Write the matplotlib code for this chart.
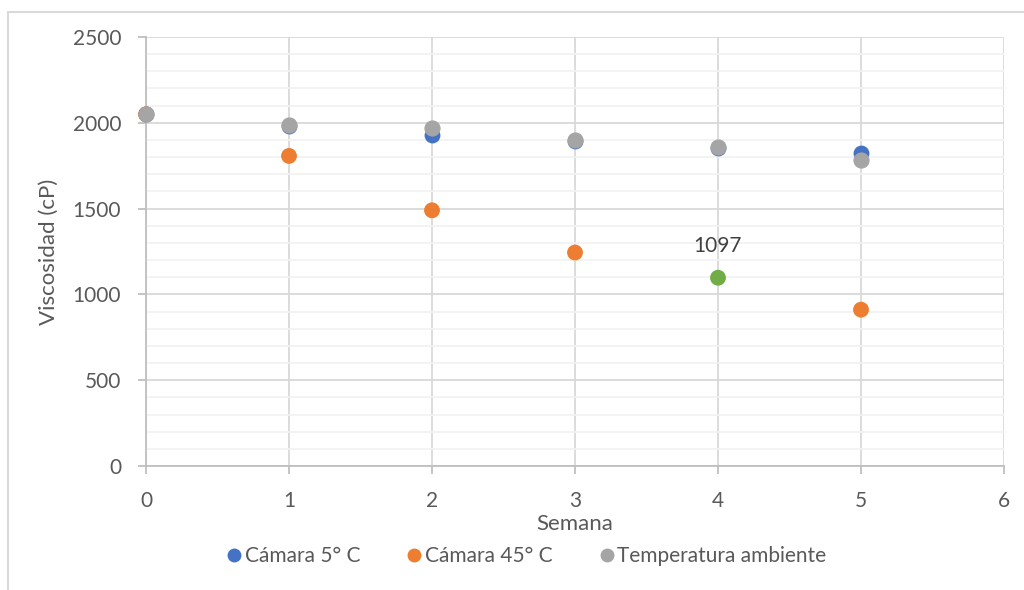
import matplotlib
matplotlib.use("Agg")
import matplotlib.pyplot as plt
from matplotlib.patches import Rectangle
from matplotlib.ticker import MultipleLocator
from matplotlib.lines import Line2D

plt.rcParams['font.family'] = ['Lato', 'DejaVu Sans']

semanas = [0, 1, 2, 3, 4, 5]
camara_5 = [2050, 1983, 1928, 1893, 1855, 1826]
camara_45 = [2050, 1807, 1490, 1244, 1097, 911]
temp_amb = [2050, 1985, 1970, 1900, 1857, 1781]
highlight_idx = 4

series_names = ["Cámara 5° C", "Cámara 45° C", "Temperatura ambiente"]
c_blue, c_orange, c_gray, c_green = "#4472C4", "#ED7D31", "#A5A5A5", "#70AD47"
txt = "#595959"

fig = plt.figure(figsize=(10.24, 5.9), dpi=100)
ax = fig.add_axes([146/1024, 1-466/590, (1004-146)/1024, (466-37)/590])

ms = 130
cols45 = [c_green if i == highlight_idx else c_orange for i in range(len(semanas))]
ax.scatter(semanas, camara_45, s=ms, color=cols45, zorder=3, linewidths=0, clip_on=False)
ax.scatter(semanas, camara_5, s=ms, color=c_blue, zorder=4, linewidths=0, clip_on=False)
ax.scatter(semanas, temp_amb, s=118, facecolor=c_gray, edgecolor=c_gray, zorder=5,
           linewidths=0.8, clip_on=False)

ax.annotate(str(camara_45[highlight_idx]), (semanas[highlight_idx], camara_45[highlight_idx]),
            xytext=(0, 16), textcoords='offset points', ha='center', va='bottom',
            fontsize=15, color="#404040")

ax.set_xlim(0, 6)
ax.set_ylim(0, 2500)
ax.xaxis.set_major_locator(MultipleLocator(1))
ax.yaxis.set_major_locator(MultipleLocator(500))
ax.yaxis.set_minor_locator(MultipleLocator(100))

ax.grid(True, which='major', color='#D9D9D9', linewidth=1.3, zorder=0)
ax.grid(True, which='minor', axis='y', color='#F2F2F2', linewidth=1.3, zorder=0)
ax.set_axisbelow(True)

for s in ['top', 'right']:
    ax.spines[s].set_visible(False)
for s in ['left', 'bottom']:
    ax.spines[s].set_color('#BFBFBF')
    ax.spines[s].set_linewidth(1.3)

ax.tick_params(axis='both', which='major', length=6, width=1.3, color='#BFBFBF',
               labelsize=15, labelcolor=txt)
ax.tick_params(axis='x', which='major', pad=12)
ax.tick_params(axis='y', which='major', pad=12)
ax.tick_params(axis='y', which='minor', length=0)

ax.set_xlabel("Semana", fontsize=16, color=txt, labelpad=2)
ax.set_ylabel("Viscosidad (cP)", fontsize=16, color=txt, labelpad=10)

handles = [Line2D([], [], marker='o', linestyle='none', markersize=10, color=c, markeredgewidth=0)
           for c in (c_blue, c_orange, c_gray)]
fig.legend(handles, series_names, loc='center', bbox_to_anchor=(525/1024, 1-556/590),
           ncol=3, frameon=False, fontsize=15, labelcolor=txt, handletextpad=0.0,
           columnspacing=2.1, handlelength=1.0)

fig.patches.append(Rectangle((8/1024, -0.1), 1.2, 1-12/590+0.1, transform=fig.transFigure,
                             fill=False, edgecolor='#D9D9D9', linewidth=1.5))

fig.savefig("out.png", dpi=100)
